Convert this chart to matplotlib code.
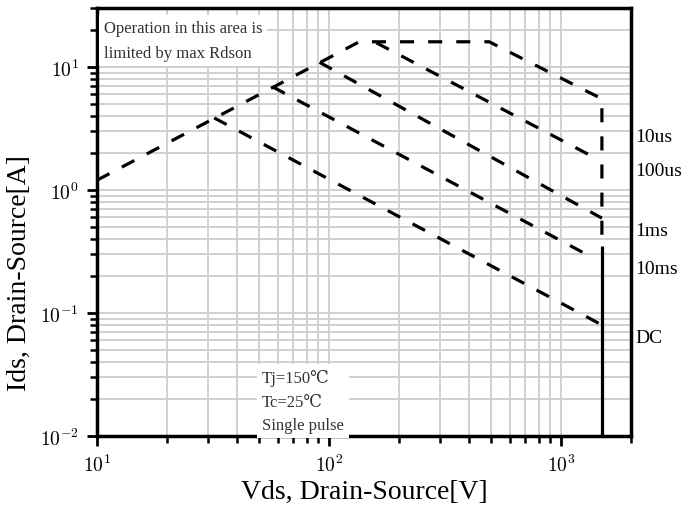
import numpy as np
import matplotlib
matplotlib.use("Agg")
import matplotlib.pyplot as plt
from matplotlib.ticker import FuncFormatter, NullFormatter

# limit line: Rdson slope, flat current limit, 10us pulse, then Vds max
vds_limit = [10, 135, 490, 1500, 1500]
ids_limit = [1.2, 16, 16, 5.5, 0.35]

# pulse lines branching off the Rdson line
vds_100us = [160, 1380]
ids_100us = [15.7, 1.85]
vds_1ms = [91, 1500]
ids_1ms = [10.9, 0.59]
vds_10ms = [57, 1330]
ids_10ms = [6.9, 0.29]
vds_dc = [32, 1500]
ids_dc = [3.85, 0.08]

# breakdown voltage (solid)
vds_bv = [1500, 1500]
ids_bv = [0.35, 0.01]

curve_labels = ["10us", "100us", "1ms", "10ms", "DC"]
label_y = [2.7, 1.45, 0.47, 0.232, 0.063]

serif = ["Liberation Serif", "DejaVu Serif", "Noto Sans CJK SC"]
plt.rcParams["mathtext.fontset"] = "cm"


def pow10(v, pos):
    return r"$10^{%d}$" % int(round(np.log10(v)))


fig = plt.figure(figsize=(6.88, 5.10), dpi=100)
ax = fig.add_axes([0.141, 0.143, 0.776, 0.839])

ax.set_xscale("log")
ax.set_yscale("log")
ax.set_xlim(10, 2000)
ax.set_ylim(0.01, 30)
ax.xaxis.set_major_formatter(FuncFormatter(pow10))
ax.yaxis.set_major_formatter(FuncFormatter(pow10))
ax.xaxis.set_minor_formatter(NullFormatter())
ax.yaxis.set_minor_formatter(NullFormatter())

ax.set_axisbelow(True)
ax.grid(True, which="both", color="#d0d0d0", linewidth=1.4)

dash = (0, (4.4, 4.4))
lw = 2.3
ax.plot(vds_limit, ids_limit, color="black", lw=lw, linestyle=dash)
ax.plot(vds_100us, ids_100us, color="black", lw=lw, linestyle=dash)
ax.plot(vds_1ms, ids_1ms, color="black", lw=lw, linestyle=dash)
ax.plot(vds_10ms, ids_10ms, color="black", lw=lw, linestyle=dash)
ax.plot(vds_dc, ids_dc, color="black", lw=lw, linestyle=dash)
ax.plot(vds_bv, ids_bv, color="black", lw=lw, solid_capstyle="butt")

trans = ax.get_yaxis_transform()
for lab, y in zip(curve_labels, label_y):
    ax.text(1.0075, y, lab, transform=trans, ha="left", va="center",
            fontsize=14, family=serif, clip_on=False)

box = dict(boxstyle="square,pad=0.3", facecolor="white", edgecolor="none")
ax.text(0.013, 0.972, "Operation in this area is\nlimited by max Rdson",
        transform=ax.transAxes, ha="left", va="top", fontsize=12,
        family=serif, color="#333333", linespacing=1.75, bbox=box)
ax.text(0.309, 0.157, "Tj=150\u2103\nTc=25\u2103\nSingle pulse",
        transform=ax.transAxes, ha="left", va="top", fontsize=12,
        family=serif, color="#333333", linespacing=1.65, bbox=box)

for s in ax.spines.values():
    s.set_linewidth(2.5)
ax.tick_params(which="major", direction="out", length=7, width=2,
               labelsize=14, pad=6)
ax.tick_params(which="minor", direction="out", length=5, width=1.8)

ax.set_xlabel("Vds, Drain-Source[V]", fontsize=20, family=serif)
ax.set_ylabel("Ids, Drain-Source[A]", fontsize=20, family=serif)
ax.xaxis.set_label_coords(0.5, -0.1)
ax.yaxis.set_label_coords(-0.122, 0.383)

fig.savefig("out.png", dpi=100)
